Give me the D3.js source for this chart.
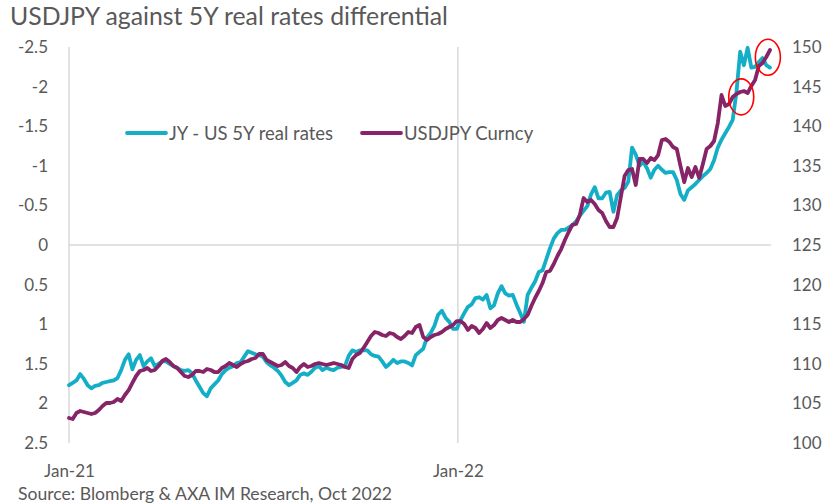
<!DOCTYPE html>
<html>
<head>
<meta charset="utf-8">
<script src="https://cdn.jsdelivr.net/npm/d3@7"></script>
<style>
  body { margin: 0; background: #fff; }
  svg { display: block; }
  text { font-family: Lato, "Open Sans", sans-serif; fill: #595959; }
</style>
</head>
<body>
<svg id="chart" width="839" height="503"></svg>
<script>
// Twice-weekly observations (every 3.5 days) starting on the first day of 2021
const firstObs = "2021-01-01";
const stepHours = 84;

// JY - US 5Y real rates differential (left axis, inverted)
const realRateDiff = [
  1.77, 1.74, 1.71, 1.63, 1.69, 1.77, 1.81, 1.78, 1.77, 1.74,
  1.73, 1.72, 1.71, 1.68, 1.58, 1.45, 1.38, 1.57, 1.45, 1.39,
  1.53, 1.47, 1.43, 1.53, 1.50, 1.47, 1.47, 1.50, 1.53, 1.55,
  1.58, 1.59, 1.58, 1.62, 1.71, 1.79, 1.87, 1.91, 1.81, 1.76,
  1.71, 1.63, 1.58, 1.55, 1.53, 1.49, 1.48, 1.41, 1.34, 1.36,
  1.38, 1.39, 1.41, 1.48, 1.52, 1.55, 1.59, 1.65, 1.73, 1.77,
  1.74, 1.71, 1.64, 1.62, 1.64, 1.60, 1.55, 1.53, 1.58, 1.55,
  1.57, 1.58, 1.55, 1.54, 1.53, 1.40, 1.33, 1.35, 1.33, 1.33,
  1.33, 1.38, 1.40, 1.41, 1.47, 1.54, 1.50, 1.45, 1.49, 1.47,
  1.47, 1.49, 1.52, 1.39, 1.35, 1.31, 1.17, 1.11, 1.02, 0.88,
  0.83, 0.92, 0.97, 1.06, 1.06, 0.95, 0.86, 0.78, 0.75, 0.67,
  0.66, 0.69, 0.63, 0.80, 0.76, 0.61, 0.52, 0.61, 0.64, 0.63,
  0.75, 0.86, 0.97, 0.63, 0.54, 0.46, 0.34, 0.32, 0.18, 0.04,
  -0.08, -0.15, -0.19, -0.19, -0.22, -0.25, -0.30, -0.37, -0.43, -0.49,
  -0.64, -0.73, -0.59, -0.59, -0.66, -0.67, -0.42, -0.63, -0.69, -0.72,
  -0.80, -1.23, -1.14, -1.00, -1.05, -0.97, -0.85, -0.95, -1.00, -0.95,
  -0.91, -0.92, -0.92, -0.82, -0.64, -0.57, -0.69, -0.73, -0.77, -0.82,
  -0.87, -0.91, -0.96, -1.07, -1.23, -1.33, -1.41, -1.49, -1.58, -1.93,
  -2.44, -2.27, -2.49, -2.24, -2.25, -2.31, -2.36, -2.27, -2.24
];

// USDJPY Curncy (right axis)
const usdjpy = [
  103.16, 103.03, 103.79, 104.04, 103.91, 103.79, 103.66, 103.79, 104.17, 104.67,
  105.05, 105.05, 105.18, 105.56, 105.30, 106.06, 106.69, 107.58, 108.46, 109.09,
  109.22, 109.47, 109.09, 109.22, 109.72, 110.35, 110.61, 110.23, 109.72, 109.47,
  108.96, 108.46, 108.33, 108.59, 109.09, 109.09, 108.96, 109.34, 109.22, 108.96,
  108.96, 109.47, 109.72, 110.10, 109.85, 109.60, 109.97, 110.23, 110.35, 110.61,
  110.73, 111.24, 111.24, 110.48, 110.23, 109.97, 109.72, 109.85, 110.23, 109.72,
  109.47, 108.96, 109.60, 109.97, 109.60, 109.72, 109.97, 110.10, 109.97, 109.85,
  109.97, 110.10, 109.97, 109.85, 109.60, 109.47, 110.61, 111.11, 111.36, 112.00,
  112.75, 113.51, 114.02, 113.89, 113.64, 113.51, 113.89, 113.76, 113.38, 113.13,
  113.51, 114.02, 113.89, 114.65, 114.90, 113.38, 113.01, 113.38, 113.64, 113.76,
  114.02, 114.39, 114.65, 114.90, 115.40, 115.40, 115.03, 114.27, 114.77, 114.52,
  113.89, 114.39, 115.15, 114.52, 114.90, 115.53, 115.78, 115.53, 115.28, 115.53,
  115.28, 115.28, 115.66, 116.16, 117.30, 118.31, 119.19, 120.20, 121.59, 121.72,
  122.60, 123.61, 124.49, 125.63, 126.64, 127.53, 127.65, 128.79, 130.93, 130.43,
  130.68, 130.18, 129.42, 129.04, 128.03, 127.27, 127.27, 128.41, 131.06, 133.71,
  134.47, 134.60, 132.58, 135.86, 135.86, 135.35, 135.98, 135.73, 136.36, 138.26,
  138.38, 138.01, 137.37, 137.12, 134.97, 132.95, 134.72, 133.59, 134.85, 133.46,
  135.23, 137.12, 137.50, 138.13, 140.40, 143.94, 142.55, 142.80, 143.69, 144.07,
  144.32, 144.44, 144.19, 145.08, 145.83, 147.60, 147.98, 148.74, 149.62
];

const rateTicks = [-2.5, -2, -1.5, -1, -0.5, 0, 0.5, 1, 1.5, 2, 2.5];
const fxTicks = [100, 105, 110, 115, 120, 125, 130, 135, 140, 145, 150];
const dateTicks = ["2021-01-01", "2022-01-01"];

// Recent USDJPY moves singled out with red rings
const highlights = [
  { date: "2022-09-24", value: 143.7 },
  { date: "2022-10-19", value: 148.7 }
];

const seriesNames = ["JY - US 5Y real rates", "USDJPY Curncy"];
const colors = { rate: "#14afc7", fx: "#862467" };

const parse = d3.utcParse("%Y-%m-%d");
const start = parse(firstObs);
const dates = realRateDiff.map((_, i) => d3.utcHour.offset(start, stepHours * i));

const svg = d3.select("#chart");
const plot = { left: 69, right: 770, top: 47, bottom: 443 };

const x = d3.scaleUtc()
  .domain([start, dates[dates.length - 1]])
  .range([plot.left, plot.right]);
const yRate = d3.scaleLinear().domain([-2.5, 2.5]).range([plot.top, plot.bottom]);
const yFx = d3.scaleLinear().domain([100, 150]).range([plot.bottom, plot.top]);

// Title
svg.append("text")
  .attr("x", 10).attr("y", 25)
  .style("font-size", "24.8px")
  .text("USDJPY against 5Y real rates differential");

// Zero line and yearly vertical lines
svg.append("line")
  .attr("x1", plot.left).attr("x2", plot.right + 1)
  .attr("y1", yRate(0)).attr("y2", yRate(0))
  .attr("stroke", "#d9d9d9").attr("stroke-width", 1.5);

svg.selectAll("line.year")
  .data(dateTicks.map(parse))
  .join("line")
  .attr("class", "year")
  .attr("x1", d => x(d)).attr("x2", d => x(d))
  .attr("y1", plot.top).attr("y2", plot.bottom)
  .attr("stroke", "#d9d9d9").attr("stroke-width", 1.5);

// Axes
const fmt = d => String(d);

const leftAxis = svg.append("g")
  .attr("transform", `translate(${plot.left},0)`)
  .call(d3.axisLeft(yRate).tickValues(rateTicks).tickSize(0).tickPadding(21).tickFormat(fmt));

const rightAxis = svg.append("g")
  .attr("transform", `translate(${plot.right + 22},0)`)
  .call(d3.axisRight(yFx).tickValues(fxTicks).tickSize(0).tickPadding(0).tickFormat(fmt));

const bottomAxis = svg.append("g")
  .attr("transform", `translate(0,${plot.bottom})`)
  .call(d3.axisBottom(x).tickValues(dateTicks.map(parse)).tickSize(0).tickPadding(22)
    .tickFormat(d3.utcFormat("%b-%y")));

[leftAxis, rightAxis, bottomAxis].forEach(g => {
  g.select(".domain").remove();
  g.selectAll("text")
    .style("font-size", "17px")
    .style("font-family", "Lato, 'Open Sans', sans-serif")
    .attr("fill", "#595959");
});

// Series lines
const rateLine = d3.line()
  .x((d, i) => x(dates[i]))
  .y(d => yRate(d));
const fxLine = d3.line()
  .x((d, i) => x(dates[i]))
  .y(d => yFx(d));

svg.append("path")
  .datum(realRateDiff)
  .attr("fill", "none")
  .attr("stroke", colors.rate)
  .attr("stroke-width", 3.8)
  .attr("stroke-linejoin", "round")
  .attr("stroke-linecap", "round")
  .attr("d", rateLine);

svg.append("path")
  .datum(usdjpy)
  .attr("fill", "none")
  .attr("stroke", colors.fx)
  .attr("stroke-width", 3.8)
  .attr("stroke-linejoin", "round")
  .attr("stroke-linecap", "round")
  .attr("d", fxLine);

// Red rings around the latest moves
svg.selectAll("ellipse.ring")
  .data(highlights)
  .join("ellipse")
  .attr("class", "ring")
  .attr("cx", d => x(parse(d.date)))
  .attr("cy", d => yFx(d.value))
  .attr("rx", 12.5)
  .attr("ry", 18)
  .attr("fill", "none")
  .attr("stroke", "#ff0000")
  .attr("stroke-width", 1.6);

// Legend
const legend = svg.append("g");
const legendItems = [
  { name: seriesNames[0], color: colors.rate, x: 127 },
  { name: seriesNames[1], color: colors.fx, x: 362 }
];
legendItems.forEach(item => {
  legend.append("line")
    .attr("x1", item.x).attr("x2", item.x + 39)
    .attr("y1", 133).attr("y2", 133)
    .attr("stroke", item.color).attr("stroke-width", 3.8)
    .attr("stroke-linecap", "round");
  legend.append("text")
    .attr("x", item.x + 42).attr("y", 139.5)
    .style("font-size", "18.5px")
    .text(item.name);
});

// Source note
svg.append("text")
  .attr("x", 18).attr("y", 500)
  .style("font-size", "17.6px")
  .text("Source: Blomberg & AXA IM Research, Oct 2022");
</script>
</body>
</html>
